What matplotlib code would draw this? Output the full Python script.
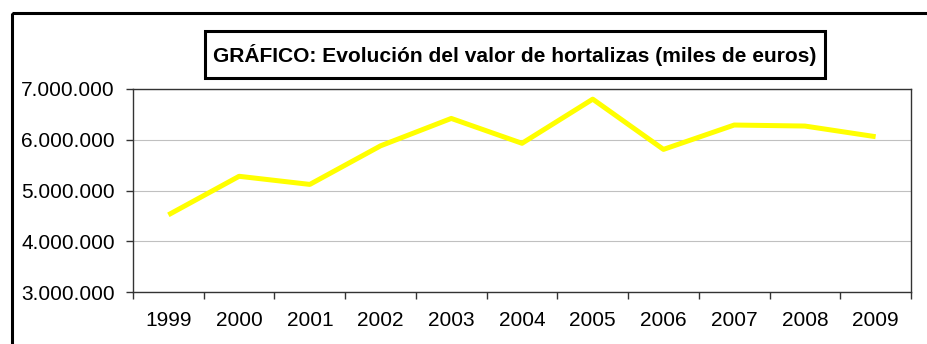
import matplotlib
matplotlib.use("Agg")
import matplotlib.pyplot as plt
from matplotlib.patches import Rectangle
from matplotlib.ticker import FuncFormatter, FixedLocator

years = ["1999", "2000", "2001", "2002", "2003", "2004", "2005", "2006", "2007", "2008", "2009"]
valor = [4520000, 5280000, 5120000, 5880000, 6420000, 5930000, 6800000, 5810000, 6290000, 6270000, 6060000]
y_ticks = [3000000, 4000000, 5000000, 6000000, 7000000]
titulo = "GRÁFICO: Evolución del valor de hortalizas (miles de euros)"

plt.rcParams["font.family"] = ["Liberation Sans", "DejaVu Sans"]

W, H = 927, 344
fig = plt.figure(figsize=(W / 100, H / 100), dpi=100)

# marco exterior del gráfico
fig.patches.append(Rectangle((12 / W, 1 - 13 / H), 1.2, -1.2, transform=fig.transFigure,
                             fill=False, edgecolor="black", linewidth=2.2))

ax = fig.add_axes([133 / W, 52 / H, (911 - 133) / W, (292 - 89) / H])
x = list(range(len(years)))
ax.plot(x, valor, color="#FFFF00", linewidth=3.6, solid_capstyle="butt", zorder=3)

ax.set_xlim(-0.5, len(years) - 0.5)
ax.set_ylim(y_ticks[0], y_ticks[-1])
ax.set_yticks(y_ticks)
ax.yaxis.set_major_formatter(FuncFormatter(lambda v, p: f"{int(v):,}".replace(",", ".")))
ax.grid(axis="y", color="#c0c0c0", linewidth=0.8)
ax.set_axisbelow(True)

ax.set_xticks(x)
ax.set_xticklabels(years)
ax.xaxis.set_minor_locator(FixedLocator([i - 0.5 for i in range(len(years) + 1)]))
ax.tick_params(axis="x", which="major", length=0, pad=14, labelsize=15)
ax.tick_params(axis="x", which="minor", length=5, width=1, color="#333333")
ax.tick_params(axis="y", length=5, width=1, color="#333333", pad=8, labelsize=15)

for s in ax.spines.values():
    s.set_color("#333333")
    s.set_linewidth(1.0)

# título en recuadro
fig.patches.append(Rectangle((205 / W, 1 - 78 / H), (825 - 205) / W, 47 / H,
                             transform=fig.transFigure, facecolor="white",
                             edgecolor="black", linewidth=2.2, zorder=5))
fig.text(515 / W, 1 - 55 / H, titulo, ha="center", va="center", fontsize=15.1,
         fontweight="bold", zorder=6)

fig.savefig("out.png", dpi=100)
